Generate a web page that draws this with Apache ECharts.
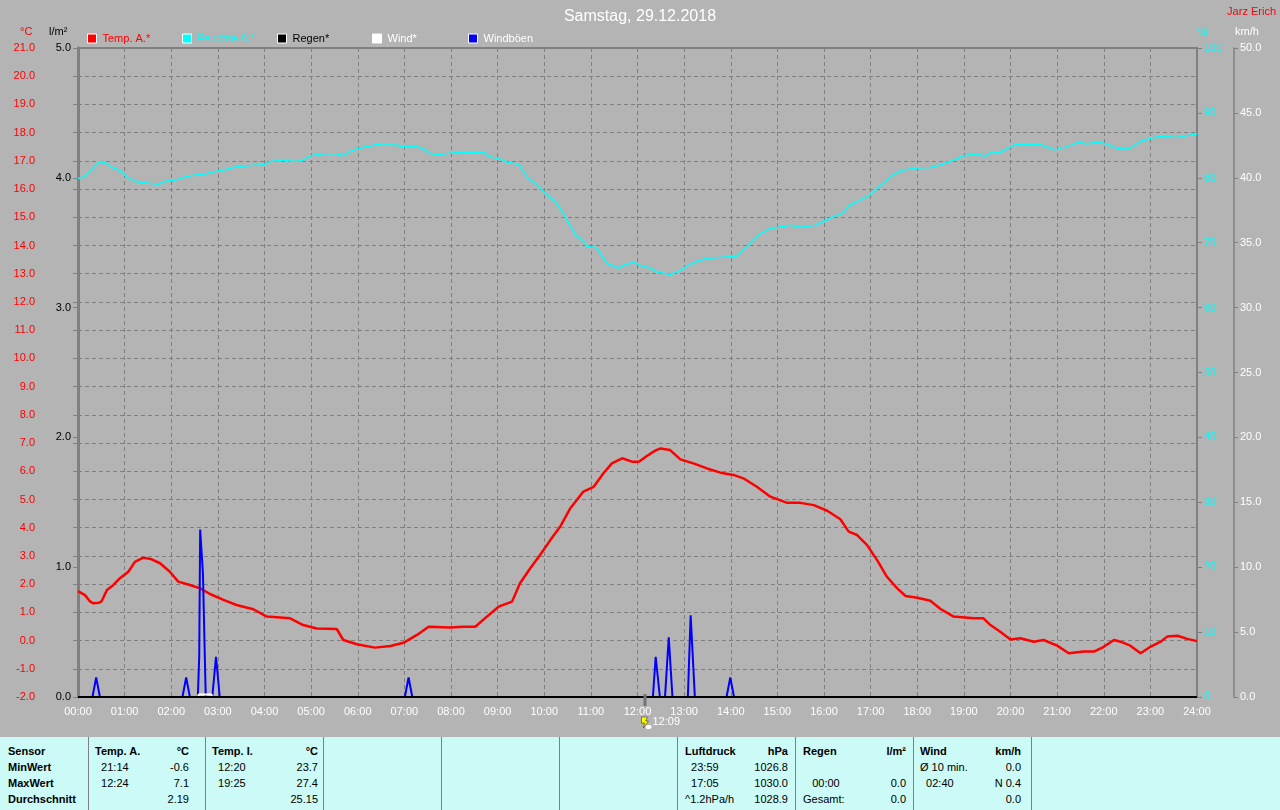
<!DOCTYPE html>
<html><head><meta charset="utf-8">
<script src="https://cdn.jsdelivr.net/npm/echarts@6/dist/echarts.min.js"></script>
<style>
html,body{margin:0;padding:0;background:#b4b4b4;width:1280px;height:810px;overflow:hidden;}
#chart{position:absolute;left:0;top:0;width:1280px;height:810px;}
#table{position:absolute;left:0;top:737px;width:1280px;height:73px;background:#ccfaf7;font-family:"Liberation Sans",Arial,sans-serif;font-size:11px;color:#000;}
.c{position:absolute;line-height:14px;white-space:pre;}
.b{font-weight:bold;}
.sep{position:absolute;top:0;width:1px;height:73px;background:#808080;}
</style></head>
<body>
<div id="chart"></div>
<div id="table"></div>
<script>
// ---------------- DATA ----------------
const titleText = 'Samstag, 29.12.2018';
const hourLabels = ['00:00','01:00','02:00','03:00','04:00','05:00','06:00','07:00','08:00','09:00','10:00','11:00','12:00','13:00','14:00','15:00','16:00','17:00','18:00','19:00','20:00','21:00','22:00','23:00','24:00'];

// Temperature (hours, °C)
const tempTimes = [0.00,0.15,0.25,0.33,0.45,0.51,0.62,0.76,0.90,1.08,1.22,1.40,1.58,1.76,1.97,2.15,2.40,2.62,2.83,3.12,3.40,3.76,4.05,4.55,4.83,5.12,5.55,5.69,5.98,6.37,6.70,6.98,7.27,7.52,7.98,8.27,8.52,8.77,9.02,9.31,9.48,9.70,9.91,10.13,10.34,10.56,10.84,11.06,11.27,11.45,11.67,11.88,12.03,12.20,12.38,12.49,12.70,12.92,13.20,13.49,13.78,14.06,14.27,14.56,14.85,15.21,15.49,15.78,16.07,16.35,16.53,16.71,16.92,17.14,17.35,17.57,17.75,18.00,18.28,18.50,18.78,19.21,19.42,19.57,19.78,20.00,20.21,20.50,20.71,21.00,21.25,21.57,21.79,22.00,22.22,22.36,22.57,22.79,23.00,23.22,23.36,23.58,23.79,24.00];
const tempValues = [1.75,1.61,1.40,1.32,1.34,1.40,1.79,1.97,2.21,2.44,2.79,2.94,2.88,2.74,2.44,2.09,1.97,1.85,1.65,1.44,1.26,1.11,0.85,0.79,0.55,0.43,0.41,0.02,-0.13,-0.25,-0.19,-0.08,0.20,0.49,0.46,0.49,0.49,0.85,1.20,1.38,2.03,2.56,3.03,3.56,4.03,4.69,5.28,5.45,5.93,6.28,6.46,6.34,6.34,6.54,6.73,6.81,6.75,6.42,6.28,6.10,5.95,5.87,5.75,5.45,5.10,4.88,4.88,4.80,4.60,4.30,3.86,3.74,3.39,2.85,2.26,1.85,1.58,1.52,1.41,1.12,0.85,0.79,0.79,0.55,0.31,0.04,0.08,-0.04,0.02,-0.18,-0.45,-0.39,-0.39,-0.22,0.02,-0.04,-0.18,-0.45,-0.22,-0.04,0.14,0.17,0.06,-0.02];

// Humidity (hours, %)
const humTimes = [0.00,0.15,0.29,0.47,0.62,0.76,0.90,1.05,1.26,1.47,1.72,1.90,2.12,2.33,2.47,2.69,2.83,3.12,3.40,3.69,3.98,4.12,4.41,4.66,4.83,4.98,5.26,5.55,5.69,5.87,6.12,6.48,6.80,6.91,7.20,7.41,7.52,7.70,7.98,8.13,8.70,8.84,9.02,9.20,9.45,9.66,9.88,10.06,10.24,10.41,10.56,10.67,10.81,10.92,11.09,11.20,11.35,11.59,11.74,11.92,12.06,12.27,12.42,12.70,12.92,13.06,13.27,13.49,13.92,14.13,14.35,14.60,14.85,15.28,15.49,15.82,15.99,16.14,16.42,16.53,16.78,17.00,17.10,17.28,17.49,17.71,17.99,18.28,18.50,18.78,19.00,19.28,19.46,19.60,19.78,19.93,20.14,20.64,20.96,21.21,21.46,21.64,21.86,22.07,22.29,22.57,22.79,23.00,23.22,23.58,23.79,24.00];
const humValues = [79.9,80.2,81.2,82.5,82.2,81.5,81.1,80.1,79.4,79.2,79.0,79.5,79.7,80.2,80.4,80.5,80.8,81.2,81.7,81.9,82.0,82.5,82.7,82.5,82.7,83.4,83.7,83.7,83.4,84.2,84.7,85.2,85.2,84.8,84.9,84.5,83.8,83.6,83.8,83.9,83.9,83.2,83.0,82.4,82.1,79.9,78.7,77.4,76.3,74.5,72.5,71.2,70.4,69.4,69.3,68.4,66.8,66.1,66.6,67.0,66.5,66.1,65.5,65.1,65.7,66.4,67.1,67.6,67.8,67.9,69.4,71.2,72.2,72.7,72.4,72.7,73.3,73.8,74.6,75.7,76.6,77.4,78.1,79.2,80.5,81.2,81.5,81.6,82.0,82.7,83.4,83.7,83.3,84.0,83.9,84.5,85.2,85.1,84.3,84.8,85.5,85.2,85.5,85.2,84.5,84.6,85.6,86.1,86.4,86.2,86.5,86.7];

// Wind gusts (hours, km/h)
const gustTimes = [0.00,0.31,0.39,0.47,2.24,2.32,2.40,2.57,2.60,2.62,2.66,2.68,2.70,2.72,2.74,2.88,2.96,3.04,7.01,7.09,7.17,12.33,12.39,12.41,12.48,12.59,12.67,12.75,13.08,13.14,13.16,13.23,13.91,13.99,14.07,24.00];
const gustValues = [0,0,1.5,0,0,1.5,0,0,3.1,12.9,12.9,9.5,6.3,3.1,0,0,3.1,0,0,1.5,0,0,3.1,3.1,0,0,4.6,0,0,6.3,6.3,0,0,1.5,0,0];

// Wind (hours, km/h)
const windTimes = [0.00,2.57,2.59,2.86,2.88,24.00];
const windValues = [0,0,0.2,0.2,0,0];

// Rain (hours, l/m²)
const rainTimes = [0.00,24.00];
const rainValues = [0,0];

// marker time 12:09
const markerTime = 12.15;
const markerLabel = '12:09';

// Legend entries
const legendNames = ['Temp. A.*','Feuchte A.*','Regen*','Wind*','Windböen'];
const legendTextColors = ['#ff0000','#00ffff','#000000','#ffffff','#ffffff'];

// Statistics table
const rowLabels = ['Sensor','MinWert','MaxWert','Durchschnitt'];
const tempAStats = [['Temp. A.','°C'],['  21:14','-0.6'],['  12:24','7.1'],['','2.19']];
const tempIStats = [['Temp. I.','°C'],['  12:20','23.7'],['  19:25','27.4'],['','25.15']];
const pressureStats = [['Luftdruck','hPa'],['  23:59','1026.8'],['  17:05','1030.0'],['^1.2hPa/h','1028.9']];
const rainStats = [['Regen','l/m²'],['',''],['   00:00','0.0'],['Gesamt:','0.0']];
const windStats = [['Wind','km/h'],['Ø 10 min.','0.0'],['  02:40','N 0.4'],['','0.0']];

// ---------------- CHART ----------------
const FONT = '"Liberation Sans", Arial, sans-serif';
const pairs = (t, v) => t.map((x, i) => [x, v[i]]);
const dash = [4, 3];
const legendLeft = [87, 182, 277, 372, 468];

const chart = echarts.init(document.getElementById('chart'), null, {renderer: 'canvas'});
const option = {
  backgroundColor: '#b4b4b4',
  animation: false,
  textStyle: {fontFamily: FONT},
  title: {text: titleText, left: 'center', top: 4,
    textStyle: {color: '#ffffff', fontSize: 16, fontWeight: 'normal', fontFamily: FONT}},
  legend: legendNames.map((n, i) => ({
    left: legendLeft[i], top: 33, padding: 0, itemWidth: 9, itemHeight: 9, itemGap: 0, icon: 'rect',
    selectedMode: false,
    itemStyle: {borderColor: '#ffffff', borderWidth: 1},
    textStyle: {fontSize: 11, fontFamily: FONT, color: legendTextColors[i], padding: [0, 0, 0, 1]},
    data: [n]
  })),
  grid: {left: 78, right: 83, top: 48, bottom: 113, show: true, borderColor: '#808080', borderWidth: 2, backgroundColor: 'transparent'},
  xAxis: {
    type: 'value', min: 0, max: 24, interval: 1,
    axisLine: {show: false}, axisTick: {show: false},
    axisLabel: {color: '#ffffff', fontSize: 11, fontFamily: FONT, margin: 9, formatter: v => hourLabels[v]},
    splitLine: {show: true, lineStyle: {color: '#808080', type: dash, width: 1}}
  },
  yAxis: [
    {type: 'value', min: -2, max: 21, interval: 1, position: 'left', offset: 37,
      axisLine: {show: true, lineStyle: {color: '#808080', width: 2}},
      axisTick: {show: true, length: 5, lineStyle: {color: '#808080'}},
      axisLabel: {color: '#ff0000', fontSize: 11, fontFamily: FONT, margin: 6, formatter: v => v.toFixed(1)},
      splitLine: {show: true, lineStyle: {color: '#808080', type: dash, width: 1}}},
    {type: 'value', min: 0, max: 5, interval: 1, position: 'left', offset: 0,
      axisLine: {show: true, lineStyle: {color: '#808080', width: 3}},
      axisTick: {show: true, length: 5, lineStyle: {color: '#808080'}},
      axisLabel: {color: '#000000', fontSize: 11, fontFamily: FONT, margin: 7, formatter: v => v.toFixed(1)},
      splitLine: {show: false}},
    {type: 'value', min: 0, max: 100, interval: 10, position: 'right', offset: 0,
      axisLine: {show: false},
      axisTick: {show: true, length: 5, lineStyle: {color: '#808080'}},
      axisLabel: {color: '#00ffff', fontSize: 11, fontFamily: FONT, margin: 7},
      splitLine: {show: false}},
    {type: 'value', min: 0, max: 50, interval: 5, position: 'right', offset: 37,
      axisLine: {show: true, lineStyle: {color: '#808080', width: 1.5}},
      axisTick: {show: true, length: 4, lineStyle: {color: '#808080'}},
      axisLabel: {color: '#ffffff', fontSize: 11, fontFamily: FONT, margin: 6, formatter: v => v.toFixed(1)},
      splitLine: {show: false}}
  ],
  series: [
    {name: 'Feuchte A.*', type: 'line', yAxisIndex: 2, data: pairs(humTimes, humValues), showSymbol: false,
      color: '#00ffff', lineStyle: {color: '#00ffff', width: 1.5}},
    {name: 'Temp. A.*', type: 'line', yAxisIndex: 0, data: pairs(tempTimes, tempValues), showSymbol: false,
      color: '#ff0000', lineStyle: {color: '#ff0000', width: 2.5}},
    {name: 'Windböen', type: 'line', yAxisIndex: 3, data: pairs(gustTimes, gustValues), showSymbol: false,
      color: '#0000ff', lineStyle: {color: '#0000ff', width: 2}},
    {name: 'Wind*', type: 'line', yAxisIndex: 3, data: pairs(windTimes, windValues), showSymbol: false,
      color: '#ffffff', lineStyle: {color: '#ffffff', width: 2}},
    {name: 'Regen*', type: 'line', yAxisIndex: 1, data: pairs(rainTimes, rainValues), showSymbol: false,
      color: '#000000', lineStyle: {color: '#000000', width: 2}}
  ]
};
chart.setOption(option);

// units, author and time marker
const mx = chart.convertToPixel({xAxisIndex: 0}, markerTime);
const tFont = '11px ' + FONT;
chart.setOption({
  graphic: [
    {type: 'text', left: 20, top: 26, style: {text: '°C', fill: '#ff0000', font: tFont}},
    {type: 'text', left: 49, top: 26, style: {text: 'l/m²', fill: '#000000', font: tFont}},
    {type: 'text', left: 1198, top: 26, style: {text: '%', fill: '#00ffff', font: tFont}},
    {type: 'text', left: 1235, top: 26, style: {text: 'km/h', fill: '#ffffff', font: tFont}},
    {type: 'text', right: 4, top: 6, style: {text: 'Jarz Erich', fill: '#ff0000', font: tFont}},
    {type: 'rect', shape: {x: mx - 1, y: 694, width: 3, height: 12}, style: {fill: '#747474'}, z: 100},
    {type: 'polygon', shape: {points: [[mx - 3, 717], [mx + 3, 717], [mx + 1, 721], [mx + 4, 721], [mx - 1, 728], [mx, 723], [mx - 3, 723]]},
      style: {fill: '#ffff00', stroke: '#404000', lineWidth: 0.6}, z: 100},
    {type: 'rect', shape: {x: mx + 1, y: 725, width: 6, height: 4, r: 2}, style: {fill: '#ffffff'}, z: 100},
    {type: 'text', x: mx + 8, y: 722, style: {text: markerLabel, fill: '#ffffff', font: tFont, textVerticalAlign: 'middle'}, z: 100}
  ]
});

// ---------------- TABLE ----------------
const table = document.getElementById('table');
const rowY = [7, 23, 39, 55];
const seps = [88, 205, 323, 441, 559, 677, 795, 913, 1031];
seps.forEach(x => { const d = document.createElement('div'); d.className = 'sep'; d.style.left = x + 'px'; table.appendChild(d); });
function cell(text, x, row, bold, alignRight) {
  const d = document.createElement('div');
  d.className = 'c' + (bold ? ' b' : '');
  d.textContent = text;
  d.style.top = rowY[row] + 'px';
  if (alignRight) d.style.right = (1280 - x) + 'px'; else d.style.left = x + 'px';
  table.appendChild(d);
}
rowLabels.forEach((t, i) => cell(t, 8, i, true, false));
const cols = [
  {stats: tempAStats, left: 95, right: 189},
  {stats: tempIStats, left: 212, right: 318},
  {stats: pressureStats, left: 685, right: 788},
  {stats: rainStats, left: 803, right: 906},
  {stats: windStats, left: 920, right: 1021}
];
cols.forEach(c => c.stats.forEach((r, i) => {
  if (r[0]) cell(r[0], c.left, i, i === 0, false);
  if (r[1]) cell(r[1], c.right, i, i === 0, true);
}));
</script>
</body></html>
